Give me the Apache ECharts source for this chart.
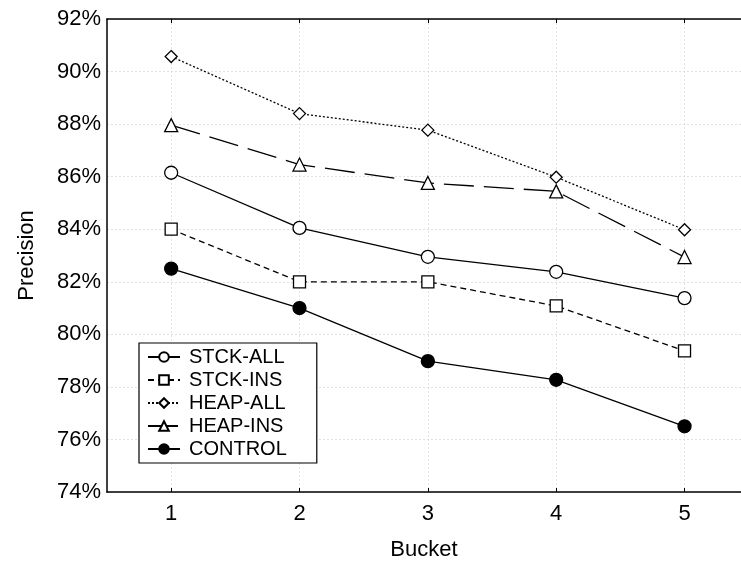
<!DOCTYPE html>
<html>
<head>
<meta charset="utf-8">
<script src="https://cdn.jsdelivr.net/npm/echarts@6/dist/echarts.min.js"></script>
<style>html,body{margin:0;padding:0;background:#fff}#c{width:741px;height:562px}</style>
</head>
<body>
<div id="c"></div>
<script>
const buckets = [1, 2, 3, 4, 5];
const yTicks = [74, 76, 78, 80, 82, 84, 86, 88, 90, 92];
const stckAll = [86.15, 84.05, 82.95, 82.38, 81.38];
const stckIns = [84.0, 82.0, 82.0, 81.08, 79.37];
const heapAll = [90.57, 88.4, 87.77, 85.98, 83.98];
const heapIns = [87.96, 86.46, 85.76, 85.44, 82.94];
const control = [82.5, 81.0, 78.98, 78.27, 76.5];

const FONT = 'Liberation Sans, Arial, sans-serif';
const pair = arr => arr.map((v, i) => [buckets[i], v]);

function mk(name, data, symbol, size, dash, fill) {
  return {
    name, type: 'line', data: pair(data), symbol, symbolSize: size,
    showAllSymbol: true,
    lineStyle: { color: '#000', width: 1.3, type: dash },
    itemStyle: { color: fill, borderColor: '#000', borderWidth: 1.3 },
    emphasis: { disabled: true },
    z: 3
  };
}

const chart = echarts.init(document.getElementById('c'), null, { renderer: 'canvas' });
chart.setOption({
  animation: false,
  backgroundColor: '#fff',
  textStyle: { fontFamily: FONT, color: '#000' },
  grid: { left: 107, top: 19, right: 0, bottom: 70, containLabel: false, outerBoundsMode: 'none' },
  xAxis: [{
    type: 'value', min: 0.5, max: 5.44,
    name: 'Bucket', nameLocation: 'middle', nameGap: 47,
    nameTextStyle: { fontSize: 22, color: '#000', fontFamily: FONT },
    axisLine: { show: true, lineStyle: { color: '#000', width: 1.5 } },
    axisTick: { show: true, inside: true, length: 4, customValues: buckets, lineStyle: { color: '#000' } },
    axisLabel: { customValues: buckets, fontSize: 22, color: '#000', margin: 11, fontFamily: FONT },
    splitLine: { show: true, lineStyle: { color: '#e0e0e0', type: [2, 2], width: 1 } }
  }, {
    type: 'value', min: 0.5, max: 5.44, position: 'top',
    axisLine: { show: true, lineStyle: { color: '#000', width: 1.5 } },
    axisTick: { show: true, inside: true, length: 4, customValues: buckets, lineStyle: { color: '#000' } },
    axisLabel: { show: false },
    splitLine: { show: false }
  }],
  yAxis: {
    type: 'value', min: yTicks[0], max: yTicks[yTicks.length - 1], interval: 2,
    name: 'Precision', nameLocation: 'middle', nameGap: 69, nameRotate: 90,
    nameTextStyle: { fontSize: 22, color: '#000', fontFamily: FONT },
    axisLine: { show: true, lineStyle: { color: '#000', width: 1.5 } },
    axisTick: { show: false },
    axisLabel: { formatter: '{value}%', fontSize: 22, color: '#000', margin: 6, fontFamily: FONT },
    splitLine: { show: true, lineStyle: { color: '#e0e0e0', type: [2, 2], width: 1 } }
  },
  legend: {
    left: 139, top: 343, orient: 'vertical',
    itemWidth: 32, itemHeight: 12, itemGap: 3,
    padding: [4, 30, 4, 8],
    backgroundColor: '#fff', borderColor: '#000', borderWidth: 1.2, borderRadius: 0,
    textStyle: { fontSize: 20, color: '#000', fontFamily: FONT, padding: [0, 0, 0, 4] },
    selectedMode: false,
    data: ['STCK-ALL', 'STCK-INS', 'HEAP-ALL', 'HEAP-INS', 'CONTROL']
  },
  series: [
    mk('STCK-ALL', stckAll, 'circle', 13, 'solid', '#fff'),
    mk('STCK-INS', stckIns, 'rect', 12, [6, 4], '#fff'),
    mk('HEAP-ALL', heapAll, 'diamond', 12, [2, 2], '#fff'),
    mk('HEAP-INS', heapIns, 'triangle', 13, [30, 10], '#fff'),
    mk('CONTROL', control, 'circle', 13, 'solid', '#000')
  ]
});
</script>
</body>
</html>
